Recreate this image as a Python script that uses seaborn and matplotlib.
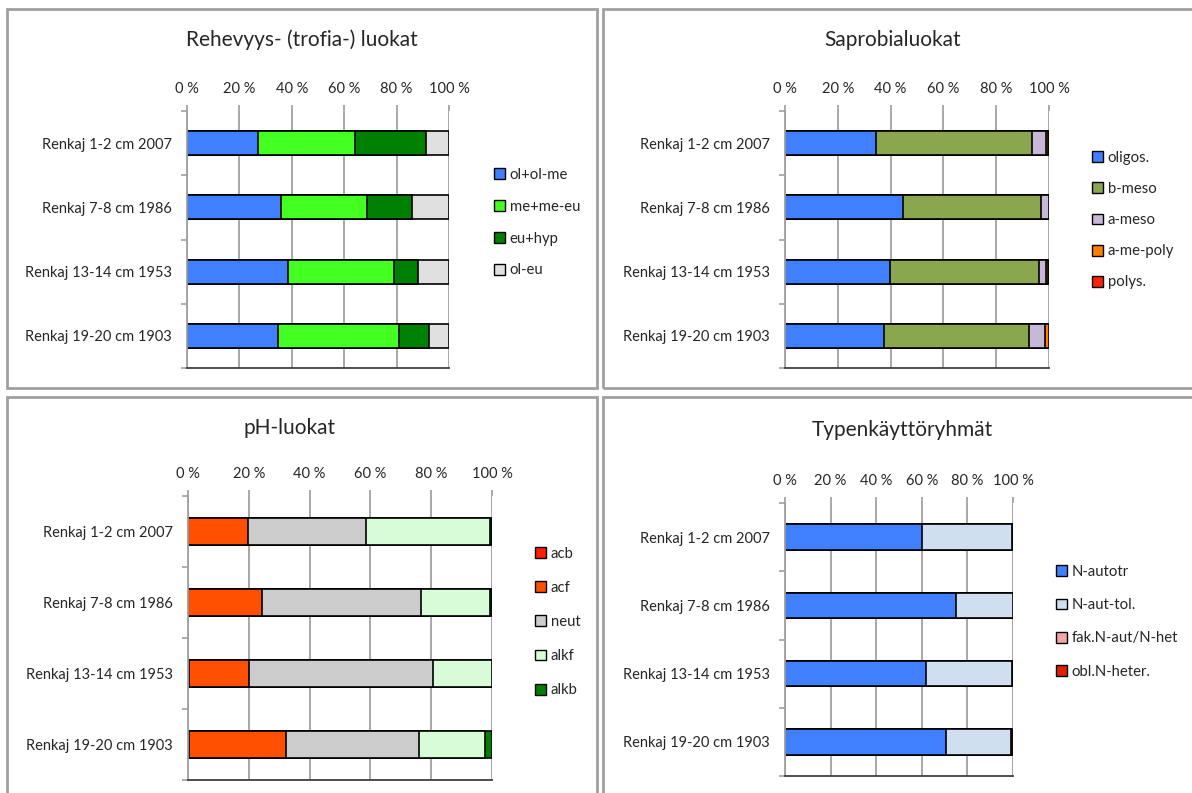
import pandas as pd
import seaborn as sns
import matplotlib.pyplot as plt
from matplotlib.patches import Patch, Rectangle

rings = ['Renkaj 1-2 cm 2007', 'Renkaj 7-8 cm 1986', 'Renkaj 13-14 cm 1953', 'Renkaj 19-20 cm 1903']
pct_ticks = [0, 20, 40, 60, 80, 100]
pct_labels = ['0 %', '20 %', '40 %', '60 %', '80 %', '100 %']

# Rehevyys- (trofia-) luokat
trofia_names = ['ol+ol-me', 'me+me-eu', 'eu+hyp', 'ol-eu']
ol_olme = [27.0, 36.0, 38.7, 34.8]
me_meeu = [37.0, 32.7, 40.3, 46.1]
eu_hyp = [27.4, 17.3, 9.0, 11.5]
ol_eu = [8.6, 14.0, 12.0, 7.6]

# Saprobialuokat
sapro_names = ['oligos.', 'b-meso', 'a-meso', 'a-me-poly', 'polys.']
oligos = [34.6, 44.6, 39.7, 37.6]
b_meso = [59.0, 52.3, 56.4, 54.8]
a_meso = [5.2, 3.1, 2.9, 6.1]
a_me_poly = [0.8, 0.0, 0.5, 1.5]
polys = [0.4, 0.0, 0.5, 0.0]

# pH-luokat
ph_names = ['acb', 'acf', 'neut', 'alkf', 'alkb']
acb = [0.0, 0.0, 0.4, 0.2]
acf = [19.6, 24.5, 19.6, 32.0]
neut = [38.8, 52.0, 60.6, 43.7]
alkf = [40.8, 23.0, 19.4, 21.8]
alkb = [0.8, 0.5, 0.0, 2.3]

# Typenkäyttöryhmät
typpi_names = ['N-autotr', 'N-aut-tol.', 'fak.N-aut/N-het', 'obl.N-heter.']
n_autotr = [60.3, 75.2, 61.8, 70.7]
n_aut_tol = [39.2, 24.8, 37.6, 28.3]
fak_n = [0.0, 0.0, 0.2, 0.0]
obl_n = [0.5, 0.0, 0.4, 1.0]

sns.set_theme(style="white")
plt.rcParams['font.family'] = ['Lato', 'DejaVu Sans']

W, H = 1192, 793
fig = plt.figure(figsize=(W / 100, H / 100), dpi=100)


def px_axes(left, top, right, bottom):
    return fig.add_axes([left / W, 1 - bottom / H, (right - left) / W, (bottom - top) / H])


def stacked(ax, names, series, colors):
    df = pd.DataFrame(dict(zip(names, series)), index=rings)
    cum = df.cumsum(axis=1)
    for name, col in reversed(list(zip(names, colors))):
        sns.barplot(x=cum[name].values, y=rings, color=col, saturation=1,
                    edgecolor='black', linewidth=1.2, width=0.37, ax=ax, orient='h')
    ax.set_xlim(0, 100)
    ax.set_ylim(3.5, -0.5)
    ax.set_xticks(pct_ticks)
    ax.set_xticklabels(pct_labels)
    ax.xaxis.tick_top()
    ax.grid(axis='x', color='#a0a0a0', linewidth=1.3)
    ax.set_axisbelow(True)
    ax.set_xlabel('')
    ax.set_ylabel('')
    ax.tick_params(axis='x', which='major', length=4, color='#a0a0a0', pad=7, labelsize=10.5,
                   top=True, bottom=False)
    ax.tick_params(axis='y', which='major', length=0, pad=11, labelsize=10.5)
    ax.set_yticks([-0.5, 0.5, 1.5, 2.5, 3.5], minor=True)
    ax.tick_params(axis='y', which='minor', length=4, color='#a0a0a0', left=True, width=1.2)
    for s in ['top', 'right']:
        ax.spines[s].set_visible(False)
    ax.spines['left'].set_color('#a0a0a0')
    ax.spines['left'].set_linewidth(1.3)
    ax.spines['bottom'].set_color('#404040')
    ax.spines['bottom'].set_linewidth(1.3)


def legend(ax, names, colors, x, y, spacing):
    handles = [Patch(facecolor=c, edgecolor='black', linewidth=1) for c in colors]
    ax.legend(handles, names, loc='upper left', bbox_to_anchor=(x / W, 1 - y / H),
              bbox_transform=fig.transFigure, frameon=False, fontsize=10.7,
              handlelength=0.75, handleheight=0.75, handletextpad=0.3,
              labelspacing=spacing, borderpad=0, borderaxespad=0)


# panel borders
for (l, t, r, b) in [(7, 9, 597, 388), (603, 9, 1200, 388), (7, 397, 597, 800), (603, 397, 1200, 800)]:
    fig.add_artist(Rectangle((l / W, 1 - b / H), (r - l) / W, (b - t) / H, transform=fig.transFigure,
                             fill=False, edgecolor='#a0a0a0', linewidth=2))

ax1 = px_axes(187, 111, 449, 368)
trofia_colors = ['#4080ff', '#44ff22', '#008000', '#e0e0e0']
stacked(ax1, trofia_names, [ol_olme, me_meeu, eu_hyp, ol_eu], trofia_colors)
legend(ax1, trofia_names, trofia_colors, 494, 168, 1.2)

ax2 = px_axes(785, 111, 1049, 368)
sapro_colors = ['#4080ff', '#8aa64e', '#c8b8d8', '#ff8000', '#ff2000']
stacked(ax2, sapro_names, [oligos, b_meso, a_meso, a_me_poly, polys], sapro_colors)
legend(ax2, sapro_names, sapro_colors, 1092, 151, 1.15)

ax3 = px_axes(188, 496, 492, 780)
ph_colors = ['#ff2000', '#ff4f00', '#cccccc', '#d8fcd8', '#008000']
stacked(ax3, ph_names, [acb, acf, neut, alkf, alkb], ph_colors)
legend(ax3, ph_names, ph_colors, 535, 547, 1.35)

ax4 = px_axes(785, 503, 1013, 776)
typpi_colors = ['#4080ff', '#cfdff0', '#f4a6a6', '#e02000']
stacked(ax4, typpi_names, [n_autotr, n_aut_tol, fak_n, obl_n], typpi_colors)
legend(ax4, typpi_names, typpi_colors, 1056, 565, 1.29)

fig.text(302 / W, 1 - 40 / H, 'Rehevyys- (trofia-) luokat', ha='center', va='center', fontsize=15)
fig.text(893 / W, 1 - 40 / H, 'Saprobialuokat', ha='center', va='center', fontsize=15)
fig.text(290 / W, 1 - 428 / H, 'pH-luokat', ha='center', va='center', fontsize=15)
fig.text(902 / W, 1 - 430 / H, 'Typenkäyttöryhmät', ha='center', va='center', fontsize=15)

fig.savefig('out.png', dpi=100)
